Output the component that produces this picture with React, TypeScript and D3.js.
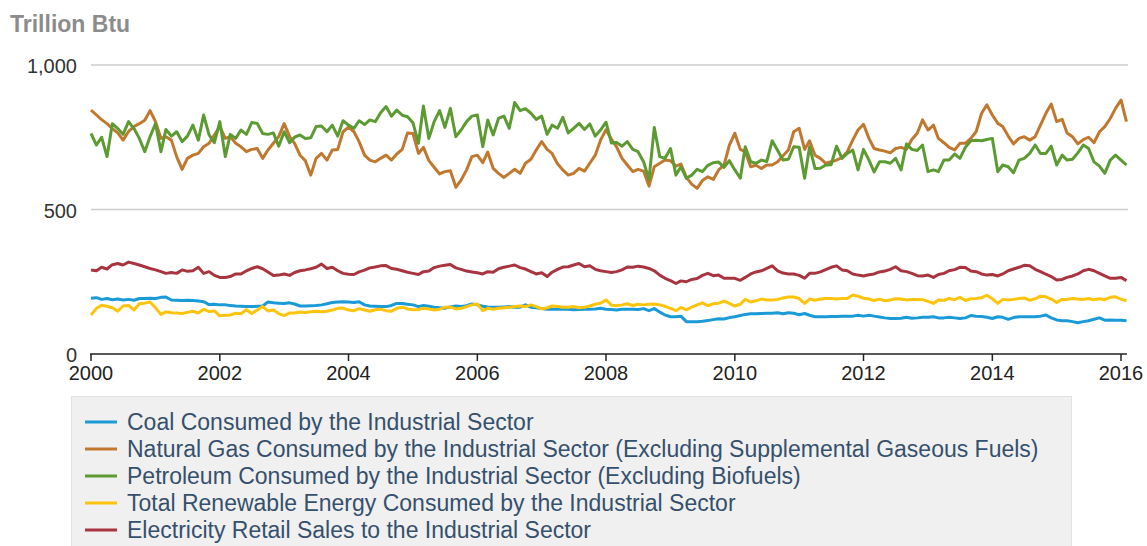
import React, { useEffect, useRef } from "react";
import * as d3 from "d3";

// monthly values, Jan 2000 .. Feb 2016 (trillion Btu)
const coal: number[] = [
  193, 195, 189, 192, 188, 190, 187, 189, 186, 192, 192, 193, 192, 196, 197, 187, 186, 185, 186, 185, 183, 181, 171, 172,
  170, 170, 168, 166, 165, 164, 164, 165, 166, 180, 177, 176, 175, 177, 173, 166, 166, 167, 168, 170, 174, 178, 180, 181,
  180, 178, 181, 170, 166, 165, 164, 164, 168, 175, 175, 172, 170, 164, 168, 165, 162, 160, 158, 163, 166, 164, 167, 173,
  170, 165, 163, 162, 162, 163, 164, 162, 162, 170, 162, 160, 157, 155, 155, 155, 155, 155, 153, 154, 155, 155, 156, 158,
  155, 154, 152, 155, 155, 155, 154, 157, 150, 157, 145, 135, 129, 129, 131, 112, 112, 112, 113, 116, 119, 122, 121, 126,
  129, 133, 137, 139, 139, 140, 141, 141, 143, 139, 143, 141, 136, 140, 134, 129, 129, 129, 130, 130, 131, 131, 131, 134,
  131, 134, 131, 128, 125, 123, 123, 124, 127, 124, 125, 127, 127, 129, 125, 125, 127, 125, 123, 125, 133, 131, 130, 127,
  123, 129, 127, 120, 126, 129, 129, 129, 129, 131, 135, 125, 118, 115, 115, 112, 108, 112, 115, 120, 125, 117, 118, 117,
  117, 115,
];

const naturalGas: number[] = [
  844, 827, 811, 797, 780, 765, 740, 770, 787, 797, 809, 842, 804, 746, 752, 740, 683, 639, 677, 688, 694, 717, 729, 758,
  787, 746, 752, 729, 717, 700, 708, 711, 677, 706, 729, 752, 797, 752, 729, 688, 669, 619, 677, 694, 671, 706, 708, 769,
  785, 769, 735, 688, 671, 665, 677, 688, 671, 692, 708, 765, 763, 694, 715, 669, 646, 623, 631, 634, 577, 602, 637, 683,
  688, 662, 699, 642, 625, 611, 625, 639, 625, 660, 674, 706, 735, 708, 694, 658, 637, 619, 625, 642, 633, 660, 688, 740,
  776, 743, 717, 677, 654, 631, 639, 633, 581, 648, 660, 671, 669, 650, 657, 611, 588, 573, 600, 613, 604, 637, 654, 723,
  764, 708, 700, 648, 653, 642, 654, 654, 665, 686, 706, 769, 781, 708, 738, 688, 677, 660, 665, 671, 680, 700, 740, 775,
  795, 746, 711, 706, 702, 696, 711, 715, 708, 742, 764, 810, 775, 792, 746, 731, 715, 706, 729, 729, 746, 769, 833, 862,
  827, 798, 787, 754, 727, 746, 752, 740, 752, 792, 833, 865, 804, 812, 765, 752, 727, 742, 750, 731, 769, 787, 815, 850,
  879, 804,
];

const petroleum: number[] = [
  763, 723, 750, 683, 797, 780, 760, 804, 780, 746, 700, 752, 797, 700, 777, 754, 769, 735, 754, 792, 740, 827, 758, 731,
  804, 683, 760, 746, 775, 760, 801, 798, 763, 760, 765, 719, 769, 731, 750, 758, 746, 748, 787, 789, 769, 792, 754, 807,
  792, 781, 807, 794, 810, 804, 835, 856, 823, 844, 826, 821, 800, 729, 858, 746, 804, 842, 784, 850, 752, 775, 804, 823,
  827, 717, 810, 758, 815, 823, 781, 870, 842, 849, 833, 812, 823, 760, 792, 781, 819, 765, 781, 798, 777, 796, 754, 775,
  802, 730, 732, 719, 735, 708, 700, 665, 604, 784, 683, 677, 711, 619, 648, 608, 619, 639, 631, 653, 662, 664, 646, 669,
  637, 608, 717, 665, 660, 671, 666, 738, 704, 671, 674, 717, 715, 608, 717, 642, 643, 654, 655, 719, 677, 694, 706, 637,
  708, 671, 630, 665, 665, 660, 677, 637, 727, 708, 704, 723, 631, 637, 631, 671, 671, 692, 677, 715, 738, 740, 738, 742,
  746, 631, 654, 648, 627, 671, 677, 694, 723, 694, 694, 719, 654, 688, 671, 674, 696, 723, 711, 665, 650, 625, 671, 688,
  671, 654,
];

const renewable: number[] = [
  135, 158, 169, 165, 160, 148, 166, 168, 152, 174, 176, 180, 160, 137, 146, 143, 142, 140, 144, 148, 142, 155, 147, 149,
  132, 134, 135, 141, 139, 153, 140, 152, 164, 149, 152, 140, 133, 142, 142, 145, 144, 146, 148, 146, 148, 152, 158, 159,
  152, 150, 157, 152, 148, 153, 155, 150, 148, 158, 162, 156, 153, 154, 158, 156, 152, 155, 162, 162, 156, 158, 164, 170,
  173, 150, 158, 155, 158, 160, 162, 164, 166, 164, 170, 164, 156, 160, 166, 164, 162, 162, 164, 160, 162, 166, 172, 176,
  187, 169, 167, 170, 174, 168, 172, 170, 172, 173, 170, 165, 158, 150, 161, 153, 162, 170, 177, 167, 174, 176, 183, 175,
  166, 172, 189, 180, 184, 190, 187, 187, 189, 194, 197, 197, 192, 175, 190, 186, 190, 192, 192, 190, 192, 192, 204, 200,
  193, 190, 185, 190, 184, 187, 191, 190, 187, 189, 189, 188, 182, 175, 187, 186, 192, 188, 196, 185, 191, 192, 195, 203,
  191, 175, 189, 187, 189, 192, 194, 186, 191, 200, 198, 190, 178, 189, 189, 192, 190, 189, 192, 188, 191, 188, 196, 198,
  190, 184,
];

const electricity: number[] = [
  291, 288, 300, 294, 309, 313, 308, 318, 313, 308, 302, 296, 291, 285, 279, 282, 279, 291, 286, 288, 300, 279, 285, 272,
  265, 265, 268, 277, 277, 288, 296, 302, 295, 284, 272, 273, 277, 272, 282, 288, 291, 295, 300, 311, 296, 300, 288, 279,
  276, 275, 284, 290, 298, 301, 305, 306, 296, 293, 288, 283, 279, 275, 285, 287, 299, 304, 307, 310, 298, 293, 287, 284,
  281, 277, 285, 283, 295, 300, 304, 308, 299, 294, 285, 277, 281, 268, 283, 293, 301, 302, 308, 313, 302, 305, 293, 288,
  285, 282, 285, 291, 301, 300, 304, 301, 296, 288, 273, 262, 254, 244, 253, 250, 258, 261, 272, 279, 271, 273, 262, 262,
  262, 255, 265, 277, 284, 288, 296, 305, 288, 280, 277, 277, 272, 262, 279, 279, 284, 292, 300, 305, 291, 288, 277, 273,
  270, 274, 277, 284, 287, 293, 302, 288, 285, 279, 271, 270, 273, 265, 275, 279, 288, 292, 300, 299, 287, 285, 277, 273,
  275, 270, 277, 288, 294, 300, 307, 305, 293, 285, 276, 268, 256, 258, 265, 270, 277, 288, 293, 288, 279, 270, 262, 262,
  265, 254,
];

const seriesNames = [
  "Coal Consumed by the Industrial Sector",
  "Natural Gas Consumed by the Industrial Sector (Excluding Supplemental Gaseous Fuels)",
  "Petroleum Consumed by the Industrial Sector (Excluding Biofuels)",
  "Total Renewable Energy Consumed by the Industrial Sector",
  "Electricity Retail Sales to the Industrial Sector",
];
const seriesValues = [coal, naturalGas, petroleum, renewable, electricity];
const seriesColors = ["#1a9ad6", "#c0782f", "#5c9a32", "#fcc40c", "#a8343f"];

const yTicks = [0, 500, 1000];
const yearTicks = [2000, 2002, 2004, 2006, 2008, 2010, 2012, 2014, 2016];
const months = d3.timeMonth.range(new Date(2000, 0, 1), new Date(2016, 2, 1));

const WIDTH = 1147;
const HEIGHT = 546;
const FONT = "'Liberation Sans', Arial, Helvetica, sans-serif";

const App: React.FC = () => {
  const svgRef = useRef<SVGSVGElement | null>(null);

  useEffect(() => {
    if (!svgRef.current) return;
    const svg = d3.select(svgRef.current);
    svg.selectAll("*").remove();

    const xScale = d3
      .scaleTime()
      .domain([new Date(2000, 0, 1), new Date(2016, 0, 1)])
      .range([91, 1121]);
    const yScale = d3.scaleLinear().domain([0, 1000]).range([354, 65]);

    // title
    svg
      .append("text")
      .attr("x", 10)
      .attr("y", 32)
      .attr("font-family", FONT)
      .attr("font-size", 23)
      .attr("font-weight", "bold")
      .attr("fill", "#8c8c8c")
      .text("Trillion Btu");

    // grid lines
    svg
      .selectAll(".grid")
      .data(yTicks.filter((d) => d > 0))
      .enter()
      .append("line")
      .attr("x1", 91)
      .attr("x2", 1128)
      .attr("y1", (d) => yScale(d))
      .attr("y2", (d) => yScale(d))
      .attr("stroke", "#cccccc")
      .attr("stroke-width", 1.5);

    svg
      .selectAll(".ylab")
      .data(yTicks)
      .enter()
      .append("text")
      .attr("x", 77)
      .attr("y", (d) => yScale(d))
      .attr("dy", "0.42em")
      .attr("text-anchor", "end")
      .attr("font-family", FONT)
      .attr("font-size", 20)
      .attr("fill", "#333")
      .text((d) => d3.format(",")(d));

    // series
    const line = d3
      .line<number>()
      .x((_, i) => xScale(months[i]))
      .y((d) => yScale(d));

    seriesValues.forEach((vals, k) => {
      svg
        .append("path")
        .datum(vals)
        .attr("fill", "none")
        .attr("stroke", seriesColors[k])
        .attr("stroke-width", 3)
        .attr("stroke-linejoin", "round")
        .attr("d", line);
    });

    // x axis
    const xAxis = svg.append("g");
    xAxis
      .append("line")
      .attr("x1", 90)
      .attr("x2", 1127)
      .attr("y1", 354)
      .attr("y2", 354)
      .attr("stroke", "#222")
      .attr("stroke-width", 1.5);
    yearTicks.forEach((yr) => {
      const x = xScale(new Date(yr, 0, 1));
      xAxis
        .append("line")
        .attr("x1", x)
        .attr("x2", x)
        .attr("y1", 354)
        .attr("y2", 361)
        .attr("stroke", "#222")
        .attr("stroke-width", 1.5);
      xAxis
        .append("text")
        .attr("x", x)
        .attr("y", 380)
        .attr("text-anchor", "middle")
        .attr("font-family", FONT)
        .attr("font-size", 20)
        .attr("fill", "#222")
        .text(String(yr));
    });

    // legend
    const legend = svg.append("g");
    legend
      .append("rect")
      .attr("x", 71.5)
      .attr("y", 396.5)
      .attr("width", 1000)
      .attr("height", 160)
      .attr("fill", "#f0f0f0")
      .attr("stroke", "#e2e2e2");
    seriesNames.forEach((name, i) => {
      const y = 422 + i * 27;
      legend
        .append("line")
        .attr("x1", 85)
        .attr("x2", 117)
        .attr("y1", y)
        .attr("y2", y)
        .attr("stroke", seriesColors[i])
        .attr("stroke-width", 3);
      legend
        .append("text")
        .attr("x", 127)
        .attr("y", y)
        .attr("dy", "0.35em")
        .attr("font-family", FONT)
        .attr("font-size", 23)
        .attr("fill", "#35506d")
        .text(name);
    });
  }, []);

  return (
    <div style={{ position: "absolute", left: 0, top: 0 }}>
      <svg ref={svgRef} width={WIDTH} height={HEIGHT}></svg>
    </div>
  );
};

export default App;
